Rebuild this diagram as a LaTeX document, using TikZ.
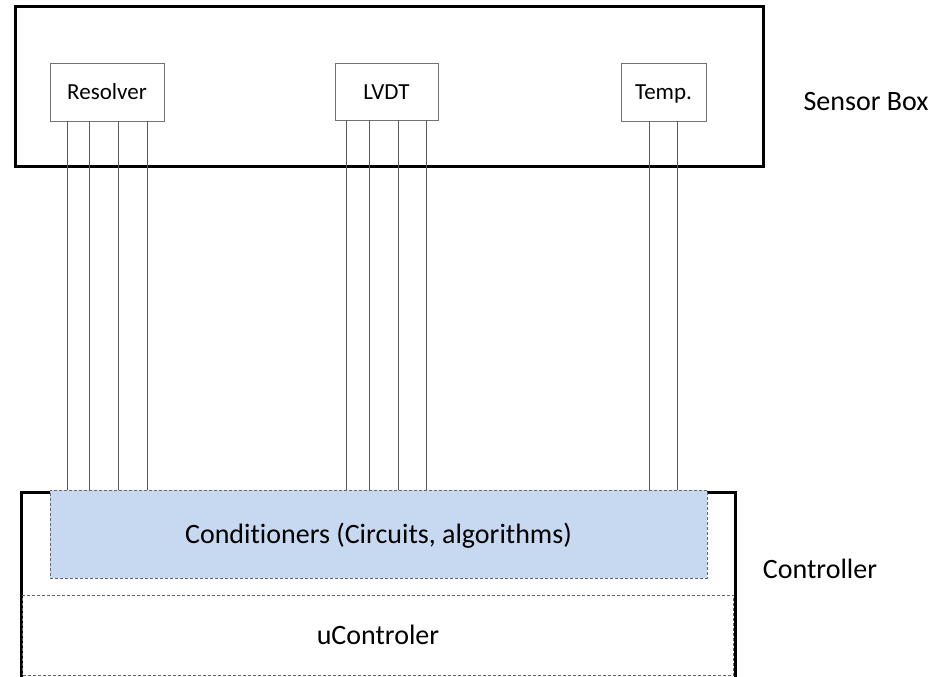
\documentclass[tikz,border=0pt]{standalone}
\usepackage{fontspec}
\setmainfont[Ligatures=NoCommon]{Carlito}
\usetikzlibrary{positioning}
\definecolor{condblue}{RGB}{198,217,240}
\tikzset{
  outerbox/.style={draw, line width=3pt, inner sep=0pt, outer sep=0pt},
  sensor/.style={draw=black!55, line width=1pt, fill=white, inner sep=0pt, outer sep=0pt,
    text height=14.8pt, text depth=0pt, font=\fontsize{23}{26}\selectfont},
  wire/.style={draw=black!65, line width=1pt},
  dashbox/.style={draw=black!60, dash pattern=on 3pt off 2pt, line width=0.9pt, inner sep=0pt,
    outer sep=0pt, text height=18pt, text depth=0pt, font=\fontsize{28}{32}\selectfont},
  caption/.style={anchor=base, font=\fontsize{28}{32}\selectfont}
}

\begin{document}
\begin{tikzpicture}[x=1pt,y=-1pt]
\clip (0,0) rectangle (942,677);
\fill[white] (0,0) rectangle (942,677);
% nodes
\node[outerbox, minimum width=748pt, minimum height=159pt] (sbox) at (389,86.5) {};
\node[sensor, minimum width=114pt, minimum height=57pt] (res) at (107,92.5) {Resolver};
\node[sensor, minimum width=103pt, minimum height=56pt] (lvdt) at (386.5,92) {LVDT};
\node[sensor, minimum width=85pt, minimum height=57pt] (temp) at (663.5,92.5) {Temp.};
\node[caption] (sblabel) at (866,110) {Sensor Box};
% controller
\node[outerbox, anchor=north west, minimum width=714pt, minimum height=190pt] (ctrl) at (21,492) {};
\node[dashbox, fill=condblue, anchor=north west, minimum width=657pt, minimum height=87.8pt] (cond) at (50,490.2) {Conditioners (Circuits, algorithms)};
\node[dashbox, fill=white, anchor=north west, minimum width=711pt, minimum height=80pt] (uctrl) at (22.5,595) {uControler};
\node[caption] (ctrllabel) at (820,578) {Controller};
% edges
\foreach \d in {17,39.5,68,97}
  \draw[wire] ([xshift=\d pt]res.south west) -- ([xshift=\d pt]res.south west |- cond.north);
\foreach \d in {11.7,34.3,63,91.7}
  \draw[wire] ([xshift=\d pt]lvdt.south west) -- ([xshift=\d pt]lvdt.south west |- cond.north);
\foreach \d in {28.3,56.7}
  \draw[wire] ([xshift=\d pt]temp.south west) -- ([xshift=\d pt]temp.south west |- cond.north);
\end{tikzpicture}
\end{document}
